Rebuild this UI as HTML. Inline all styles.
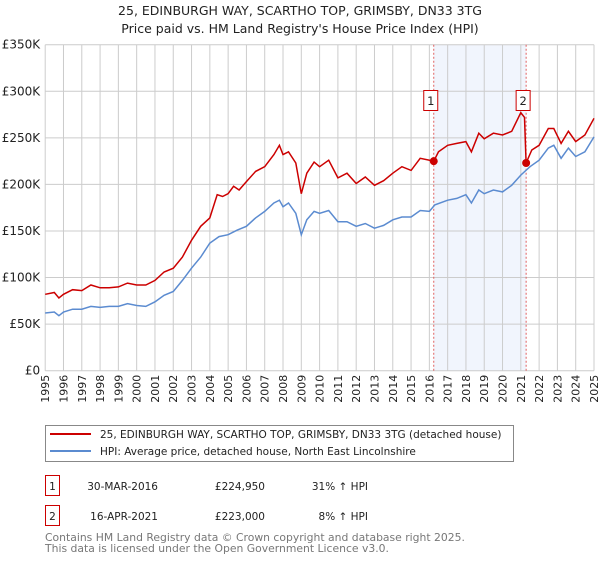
<!DOCTYPE html>
<html><head><meta charset="utf-8"><style>
body{margin:0;background:#fff;font-family:"Liberation Sans","DejaVu Sans",sans-serif;}
svg text{font-family:"DejaVu Sans","Liberation Sans",sans-serif;}
</style></head><body>
<svg id="c" width="600" height="560" xmlns="http://www.w3.org/2000/svg">
<text x="300" y="15" text-anchor="middle" font-size="12.5" fill="#222">25, EDINBURGH WAY, SCARTHO TOP, GRIMSBY, DN33 3TG</text>
<text x="300" y="33" text-anchor="middle" font-size="12.5" fill="#222">Price paid vs. HM Land Registry's House Price Index (HPI)</text>
<g id="grid"></g><g id="series"></g>
<g>
<rect x="45.5" y="425.5" width="468" height="36" fill="#fff" stroke="#888"/>
<line x1="50" y1="434" x2="91" y2="434" stroke="#cc0000" stroke-width="2"/>
<text x="100" y="438" font-size="10.5" fill="#222">25, EDINBURGH WAY, SCARTHO TOP, GRIMSBY, DN33 3TG (detached house)</text>
<line x1="50" y1="451" x2="91" y2="451" stroke="#5b8bd0" stroke-width="2"/>
<text x="100" y="455" font-size="10.5" fill="#222">HPI: Average price, detached house, North East Lincolnshire</text>
</g>
<g font-size="10.5" fill="#222">
<rect x="45.5" y="475.5" width="14" height="20" fill="#fff" stroke="#cc0000"/>
<text x="52.5" y="490" text-anchor="middle">1</text>
<text x="158" y="490" text-anchor="end">30-MAR-2016</text>
<text x="265" y="490" text-anchor="end">£224,950</text>
<text x="368" y="490" text-anchor="end">31% ↑ HPI</text>
<rect x="45.5" y="505.5" width="14" height="20" fill="#fff" stroke="#cc0000"/>
<text x="52.5" y="520" text-anchor="middle">2</text>
<text x="158" y="520" text-anchor="end">16-APR-2021</text>
<text x="265" y="520" text-anchor="end">£223,000</text>
<text x="368" y="520" text-anchor="end">8% ↑ HPI</text>
</g>
<text x="45" y="541" font-size="10.8" fill="#777">Contains HM Land Registry data © Crown copyright and database right 2025.</text>
<text x="45" y="552" font-size="10.8" fill="#777">This data is licensed under the Open Government Licence v3.0.</text>
</svg>
<script>
const hpiYears=[1995,1995.5,1995.75,1996,1996.5,1997,1997.5,1998,1998.5,1999,1999.5,2000,2000.5,2001,2001.5,2002,2002.5,2003,2003.5,2004,2004.5,2005,2005.5,2006,2006.5,2007,2007.5,2007.8,2008,2008.3,2008.7,2009,2009.3,2009.7,2010,2010.5,2011,2011.5,2012,2012.5,2013,2013.5,2014,2014.5,2015,2015.5,2016,2016.3,2017,2017.5,2018,2018.3,2018.7,2019,2019.5,2020,2020.5,2021,2021.5,2022,2022.5,2022.8,2023.2,2023.6,2024,2024.5,2025];
const hpiValues=[62,63,59,63,66,66,69,68,69,69,72,70,69,74,81,85,97,110,122,137,144,146,151,155,164,171,180,183,176,180,169,146,162,171,169,172,160,160,155,158,153,156,162,165,165,172,171,178,183,185,189,180,194,190,194,192,199,210,219,226,239,242,228,239,230,235,251];
const priceYears=[1995,1995.5,1995.75,1996,1996.5,1997,1997.5,1998,1998.5,1999,1999.5,2000,2000.5,2001,2001.5,2002,2002.5,2003,2003.5,2004,2004.4,2004.7,2005,2005.3,2005.6,2006,2006.5,2007,2007.5,2007.8,2008,2008.3,2008.7,2009,2009.3,2009.7,2010,2010.5,2011,2011.5,2012,2012.5,2013,2013.5,2014,2014.5,2015,2015.5,2016.24,2016.5,2017,2017.5,2018,2018.3,2018.7,2019,2019.5,2020,2020.5,2021,2021.2,2021.29,2021.6,2022,2022.5,2022.8,2023.2,2023.6,2024,2024.5,2025];
const priceValues=[82,84,78,82,87,86,92,89,89,90,94,92,92,97,106,110,122,140,155,164,189,187,190,198,194,203,214,219,232,242,232,235,223,190,212,224,219,226,207,212,201,208,199,204,212,219,215,228,225,235,242,244,246,235,255,249,255,253,257,277,272,223,237,242,260,260,244,257,246,253,271];
const saleYears=[2016.24,2021.29];
const saleValues=[224.95,223];
const saleLabels=["1","2"];
const yTicks=[0,50,100,150,200,250,300,350];
const yTickLabels=["£0","£50K","£100K","£150K","£200K","£250K","£300K","£350K"];
const xTicks=[1995,1996,1997,1998,1999,2000,2001,2002,2003,2004,2005,2006,2007,2008,2009,2010,2011,2012,2013,2014,2015,2016,2017,2018,2019,2020,2021,2022,2023,2024,2025];

const L=45.2,R=594,T=44.7,B=370.7;
const xs=y=>L+(y-1995)/30*(R-L);
const ys=v=>B-v/350*(B-T);
const NS="http://www.w3.org/2000/svg";
function mk(tag,attrs,parent){const e=document.createElementNS(NS,tag);for(const k in attrs)e.setAttribute(k,attrs[k]);parent.appendChild(e);return e;}
const g=document.getElementById('grid'),s=document.getElementById('series');
let band=mk('rect',{x:xs(saleYears[0]),y:T,width:xs(saleYears[1])-xs(saleYears[0]),height:B-T,fill:'#eef3fc',opacity:0.8},g);


xTicks.forEach(t=>{
  const l=mk('line',{x1:xs(t),x2:xs(t),y1:T,y2:B,stroke:'#cccccc','stroke-width':1},g);
  
  
  const x=xs(t)+4,y=B+4;
  const tx=mk('text',{x:x,y:y,'text-anchor':'end','font-size':11,fill:'#222',transform:'rotate(-90 '+x+' '+y+')'},g);
  tx.textContent=t;
  
  
});
yTicks.forEach((t,i)=>{
  const l=mk('line',{x1:L,x2:R,y1:ys(t),y2:ys(t),stroke:'#cccccc','stroke-width':1},g);
  
  
  const tx=mk('text',{x:L-5,y:ys(t)+4,'text-anchor':'end','font-size':12,fill:'#222'},g);
  tx.textContent=yTickLabels[i];
  
  
});
saleYears.forEach((y,i)=>{
  const l=mk('line',{x1:xs(y),x2:xs(y),y1:T,y2:B,stroke:'#e06060','stroke-width':1,'stroke-dasharray':'2,2'},g);
  
  
});
const pts=(xa,va)=>xa.map((x,i)=>xs(x).toFixed(1)+','+ys(va[i]).toFixed(1)).join(' ');
const hl=mk('polyline',{points:pts(hpiYears,hpiValues),fill:'none',stroke:'#5b8bd0','stroke-width':1.5},s);


const pl=mk('polyline',{points:pts(priceYears,priceValues),fill:'none',stroke:'#cc0000','stroke-width':1.5},s);


saleYears.forEach((y,i)=>{
  const c=mk('circle',{cx:xs(y),cy:ys(saleValues[i]),r:4,fill:'#cc0000'},s);
  
  
  const bx=xs(y)-3;
  const r=mk('rect',{x:bx-7,y:90.5,width:14,height:20,fill:'#fff',stroke:'#cc0000'},s);
  
  
  const t=mk('text',{x:bx,y:105,'text-anchor':'middle','font-size':11.5,fill:'#222'},s);
  t.textContent=saleLabels[i];
  
  
});
</script>
</body></html>
